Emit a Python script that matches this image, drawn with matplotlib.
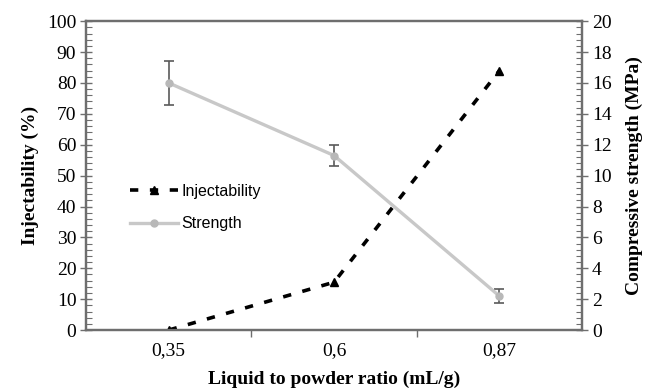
import numpy as np
import matplotlib.pyplot as plt
from matplotlib.ticker import MultipleLocator

ratios = ["0,35", "0,6", "0,87"]
injectability = [0.0, 15.5, 84.0]
strength = [16.0, 11.3, 2.2]
strength_err = [1.4, 0.7, 0.45]

x = np.arange(len(ratios))
axis_grey = "#6e6e6e"

fig = plt.figure(figsize=(6.57, 3.92), dpi=100)
ax = fig.add_axes([0.131, 0.158, 0.755, 0.788])
ax2 = ax.twinx()

# injectability on left axis
l1, = ax.plot(x, injectability, color="black", lw=2.6, ls=(0, (2.3, 3.2)),
              marker="^", ms=6, mfc="black", mec="black", label="Injectability", zorder=3)
# strength on right axis
ax2.errorbar(x, strength, yerr=strength_err, fmt="none", ecolor="#5a5a5a",
             elinewidth=1.2, capsize=3.5, capthick=1.2, zorder=2)
l2, = ax2.plot(x, strength, color="#c8c8c8", lw=2.4, marker="o", ms=5,
               mfc="#b8b8b8", mec="#b8b8b8", label="Strength", zorder=3)

ax.set_xlim(-0.5, 2.5)
ax.set_ylim(0, 100)
ax2.set_ylim(0, 20)

ax.set_xticks(x)
ax.set_xticklabels(ratios)
ax.set_xticks([0.5, 1.5], minor=True)
ax.tick_params(axis="x", which="major", length=0, pad=9)
ax.tick_params(axis="x", which="minor", length=5, width=1, color=axis_grey, direction="out")

ax.yaxis.set_major_locator(MultipleLocator(10))
ax.yaxis.set_minor_locator(MultipleLocator(2))
ax2.yaxis.set_major_locator(MultipleLocator(2))
ax2.yaxis.set_minor_locator(MultipleLocator(0.4))
for a in (ax, ax2):
    a.tick_params(axis="y", which="major", direction="inout", length=8, width=1, color=axis_grey,
                  labelsize=14, pad=3)
    a.tick_params(axis="y", which="minor", direction="in", length=4, width=0.8, color=axis_grey)
    for lab in a.get_yticklabels():
        lab.set_family("Liberation Serif")
for lab in ax.get_xticklabels():
    lab.set_family("Liberation Serif")
    lab.set_fontsize(14)

for a in (ax, ax2):
    for s in a.spines.values():
        s.set_color(axis_grey)
        s.set_linewidth(1.6)

ax.set_xlabel("Liquid to powder ratio (mL/g)", family="Liberation Serif", fontweight="bold",
              fontsize=14, labelpad=8)
ax.set_ylabel("Injectability (%)", family="Liberation Serif", fontweight="bold",
              fontsize=14, labelpad=6)
ax2.set_ylabel("Compressive strength (MPa)", family="Liberation Serif", fontweight="bold",
               fontsize=14, labelpad=10)

leg = ax.legend(handles=[l1, l2], loc="upper left", bbox_to_anchor=(0.06, 0.52),
                frameon=False, prop={"family": "Liberation Sans", "size": 11.5},
                handlelength=3.0, handletextpad=0.2, labelspacing=1.1)

fig.savefig("out.png", dpi=100)
